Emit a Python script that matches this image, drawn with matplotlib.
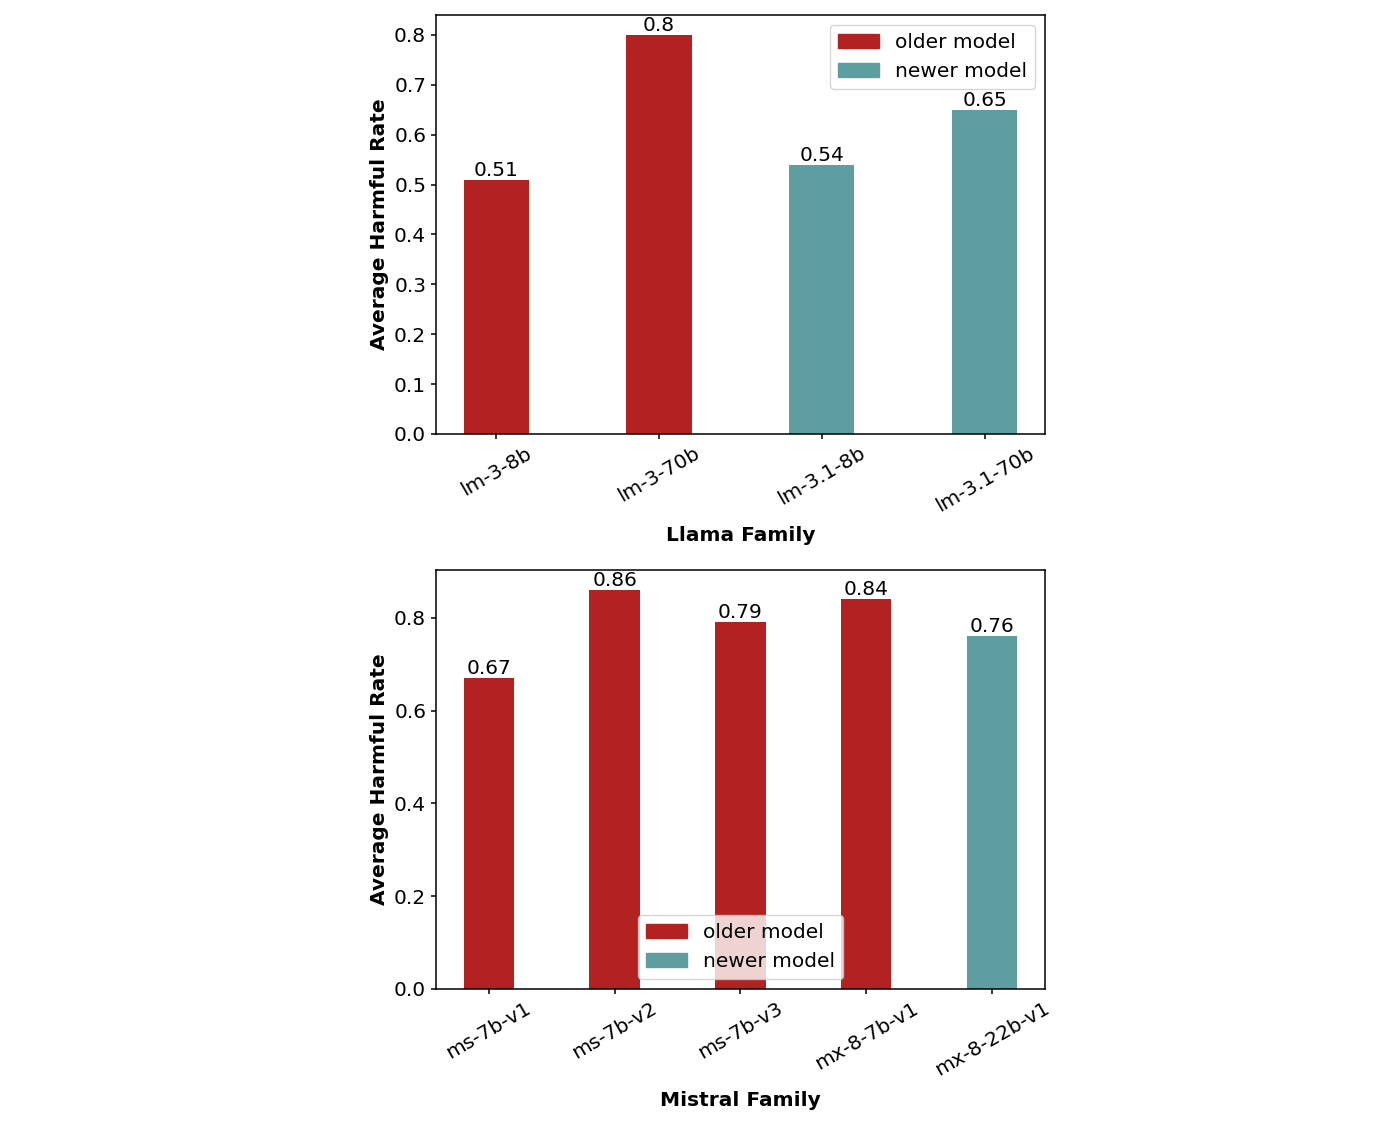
import matplotlib
matplotlib.use("Agg")
import matplotlib.pyplot as plt
from matplotlib.patches import Patch

# Llama family
llama_models = ['lm-3-8b', 'lm-3-70b', 'lm-3.1-8b', 'lm-3.1-70b']
llama_rates = [0.51, 0.80, 0.54, 0.65]
llama_newer = [False, False, True, True]

# Mistral family
mistral_models = ['ms-7b-v1', 'ms-7b-v2', 'ms-7b-v3', 'mx-8-7b-v1', 'mx-8-22b-v1']
mistral_rates = [0.67, 0.86, 0.79, 0.84, 0.76]
mistral_newer = [False, False, False, False, True]

OLD_COLOR = '#B22222'
NEW_COLOR = '#5F9EA0'
FS = 14.5

plt.rcParams['axes.linewidth'] = 1.1
plt.rcParams['xtick.major.width'] = 1.1
plt.rcParams['ytick.major.width'] = 1.1


def draw_panel(ax, models, rates, newer, xlabel, legend_loc):
    colors = [NEW_COLOR if n else OLD_COLOR for n in newer]
    bars = ax.bar(range(len(models)), rates, width=0.4, color=colors)
    ax.bar_label(bars, fontsize=FS)
    ax.set_ylim(0, max(rates) * 1.05)
    ax.set_xticks(range(len(models)))
    ax.set_xticklabels(models, rotation=30, fontsize=FS)
    ax.tick_params(axis='y', labelsize=FS)
    ax.set_xlabel(xlabel, fontsize=FS, fontweight='bold', labelpad=8)
    ax.set_ylabel('Average Harmful Rate', fontsize=FS, fontweight='bold')
    handles = [Patch(color=OLD_COLOR, label='older model'),
               Patch(color=NEW_COLOR, label='newer model')]
    ax.legend(handles=handles, loc=legend_loc, fontsize=FS)


fig = plt.figure(figsize=(14, 11.3), dpi=100)
ax1 = fig.add_axes([0.3114, 0.616, 0.435, 0.3708])
ax2 = fig.add_axes([0.3114, 0.1248, 0.435, 0.3708])

draw_panel(ax1, llama_models, llama_rates, llama_newer, 'Llama Family', 'upper right')
draw_panel(ax2, mistral_models, mistral_rates, mistral_newer, 'Mistral Family', 'lower center')

fig.savefig('out.png', dpi=100)
